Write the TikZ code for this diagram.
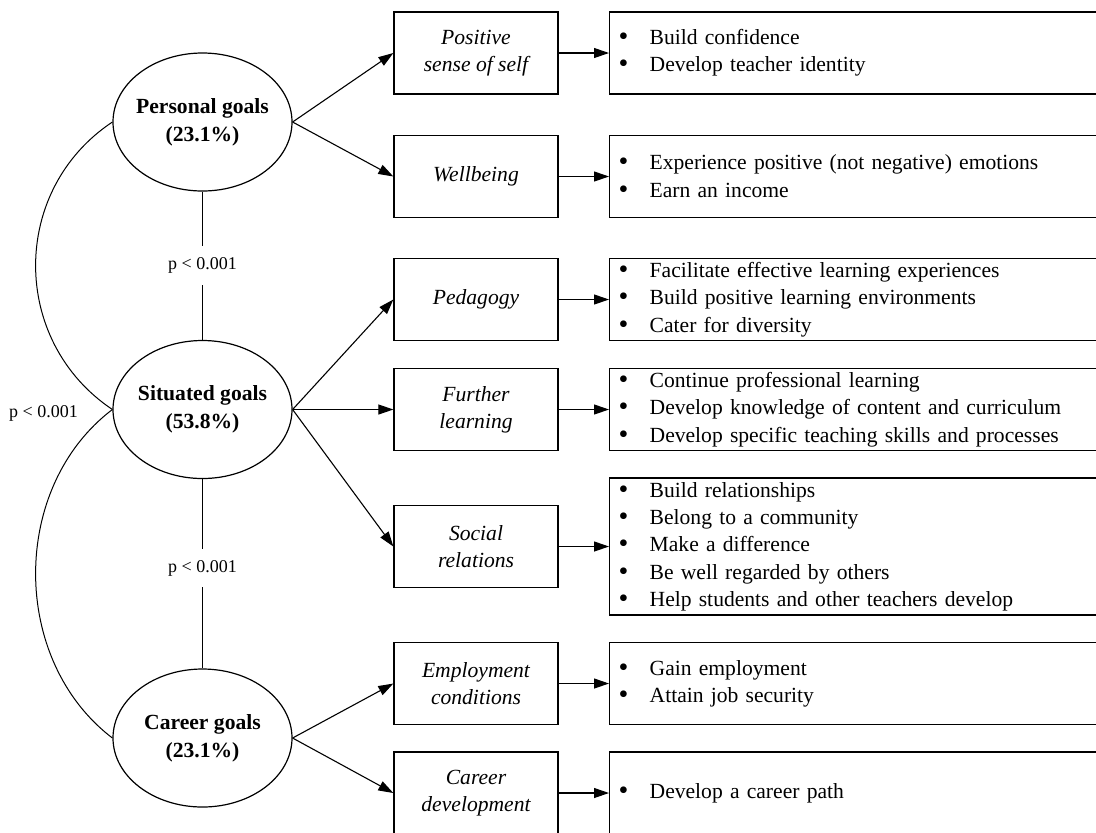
\documentclass[tikz,border=0pt]{standalone}
\usepackage{fontspec}
\setmainfont{Liberation Serif}
\usetikzlibrary{shapes.geometric,arrows.meta}
\begin{document}
\begin{tikzpicture}[x=0.5pt,y=-0.5pt,
  goal/.style={ellipse, draw, line width=0.6pt, minimum width=89.5pt, minimum height=69pt,
    inner xsep=-4pt, inner ysep=0pt, align=center, font=\fontsize{10.8}{14}\selectfont\bfseries},
  mid/.style={rectangle, draw, line width=0.65pt, minimum width=82pt, minimum height=41pt,
    inner sep=0pt, align=center, font=\fontsize{10.8}{13.65}\selectfont\itshape},
  rbox/.style={rectangle, draw, line width=0.65pt, anchor=west, text width=241.5pt,
    minimum height=41pt, inner xsep=4.5pt, inner ysep=0pt, align=left,
    font=\fontsize{10.8}{13.65}\selectfont},
  arr/.style={-{Triangle[length=7.5pt,width=5pt]}, line width=0.55pt},
  plabel/.style={font=\fontsize{9}{10}\selectfont, fill=white, inner xsep=2pt, inner ysep=5.7pt},
  link/.style={line width=0.5pt}
]
\newcommand{\bul}{\makebox[15.5pt][l]{\raisebox{-0.5pt}{\fontsize{14}{14}\selectfont\textbullet}}}
\clip (0,0) rectangle (1096,832);
\fill[white] (0,0) rectangle (1096,832);

% goal ellipses
\node[goal] (P) at (202.5,122) {Personal goals\\(23.1\%)};
\node[goal] (S) at (202.5,409.5) {Situated goals\\(53.8\%)};
\node[goal] (C) at (202.5,738) {Career goals\\(23.1\%)};

% middle boxes
\node[mid] (pos) at (476,53) {Positive\\sense of self};
\node[mid] (well) at (476,176.5) {Wellbeing};
\node[mid] (ped) at (476,299.5) {Pedagogy};
\node[mid] (fur) at (476,409.5) {Further\\learning};
\node[mid] (soc) at (476,546.5) {Social\\relations};
\node[mid] (emp) at (476,683.5) {Employment\\conditions};
\node[mid] (car) at (476,793) {Career\\development};

% right boxes
\node[rbox] (r1) at (609,53) {\bul Build confidence\\\bul Develop teacher identity};
\node[rbox] (r2) at (609,176.5) {\bul Experience positive (not negative) emotions\\\bul Earn an income};
\node[rbox] (r3) at (609,299.5) {\bul Facilitate effective learning experiences\\\bul Build positive learning environments\\\bul Cater for diversity};
\node[rbox] (r4) at (609,409.5) {\bul Continue professional learning\\\bul Develop knowledge of content and curriculum\\\bul Develop specific teaching skills and processes};
\node[rbox, minimum height=68.5pt] (r5) at (609,546.5) {\bul Build relationships\\\bul Belong to a community\\\bul Make a difference\\\bul Be well regarded by others\\\bul Help students and other teachers develop};
\node[rbox] (r6) at (609,683.5) {\bul Gain employment\\\bul Attain job security};
\node[rbox] (r7) at (609,793) {\bul Develop a career path};

% ellipse to middle
\draw[arr] (P.east) -- (pos.west);
\draw[arr] (P.east) -- (well.west);
\draw[arr] (S.east) -- (ped.west);
\draw[arr] (S.east) -- (fur.west);
\draw[arr] (S.east) -- (soc.west);
\draw[arr] (C.east) -- (emp.west);
\draw[arr] (C.east) -- (car.west);

% middle to right
\draw[arr] (pos.east) -- (r1.west);
\draw[arr] (well.east) -- (r2.west);
\draw[arr] (ped.east) -- (r3.west);
\draw[arr] (fur.east) -- (r4.west);
\draw[arr] (soc.east) -- (r5.west);
\draw[arr] (emp.east) -- (r6.west);
\draw[arr] (car.east) -- (r7.west);

% correlations
\draw[link] (P.south) -- node[plabel] (l1) {p < 0.001} (S.north);
\draw[link] (S.south) -- node[plabel, pos=0.47] (l2) {p < 0.001} (C.north);
\draw[link] (P.west) .. controls (10,190) and (10,341) .. (S.west);
\draw[link] (S.west) .. controls (10,487) and (10,660) .. (C.west);
\node[font=\fontsize{9}{10}\selectfont] (l3) at (43.5,413) {p < 0.001};
\end{tikzpicture}
\end{document}
